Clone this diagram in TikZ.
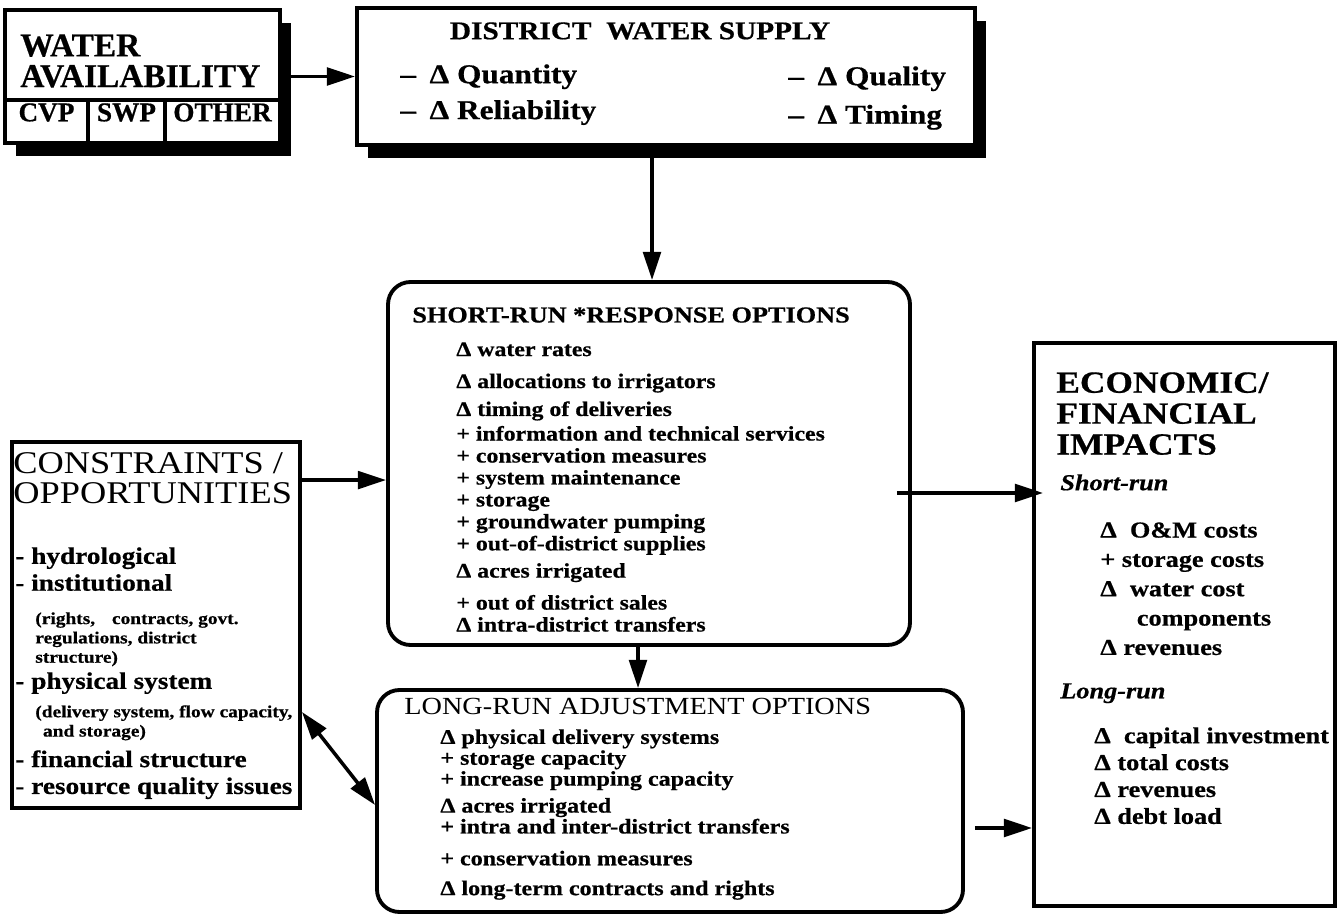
\documentclass[tikz,border=0pt]{standalone}
\usepackage{fontspec}
\setmainfont{Liberation Serif}[BoldFeatures={FakeBold=0.6}]
\newfontfamily\wideser[FakeStretch=1.15, BoldFeatures={FakeBold=0.6}, BoldItalicFeatures={FakeBold=0.6}]{Liberation Serif}
\usetikzlibrary{arrows.meta, positioning, fit, shadows}

\begin{document}
\begin{tikzpicture}[
  x=0.02cm, y=-0.02cm,
  box/.style={draw, line width=2.2pt, inner sep=0pt},
  shadowed/.style={fill=white, general shadow={fill=black, shadow xshift=0.22cm, shadow yshift=-0.26cm}},
  roundbox/.style={box, rounded corners=0.45cm},
  txt/.style={anchor=north west, inner sep=0pt, align=left},
  arrow/.style={line width=2pt, -{Triangle[length=16pt, width=10pt]}},
  dblarrow/.style={line width=2pt, {Triangle[length=16pt, width=10pt]}-{Triangle[length=16pt, width=10pt]}},
  bighead/.style={font=\bfseries\fontsize{19}{17.5}\selectfont},
  cellhead/.style={font=\bfseries\fontsize{15.5}{17}\selectfont},
  supplyhead/.style={font=\wideser\bfseries\fontsize{14.5}{17}\selectfont},
  supplyitem/.style={font=\wideser\bfseries\fontsize{15.5}{20.4}\selectfont},
  opthead/.style={font=\wideser\bfseries\fontsize{13}{15}\selectfont},
  longhead/.style={font=\wideser\fontsize{14}{15}\selectfont},
  optitem/.style={font=\wideser\bfseries\fontsize{11.8}{12.5}\selectfont},
  longitem/.style={font=\wideser\bfseries\fontsize{11.9}{11.9}\selectfont},
  sidehead/.style={font=\wideser\fontsize{18}{17}\selectfont},
  sideitem/.style={font=\wideser\bfseries\fontsize{13.5}{15.3}\selectfont},
  sidenote/.style={font=\wideser\bfseries\fontsize{9.6}{11}\selectfont},
  impacthead/.style={font=\wideser\bfseries\fontsize{17.5}{17.6}\selectfont},
  runhead/.style={font=\wideser\bfseries\itshape\fontsize{13}{15}\selectfont},
  impactitem/.style={font=\wideser\bfseries\fontsize{13}{16.7}\selectfont}
]

\useasboundingbox (0,0) rectangle (1338,915);

% water availability, with the three sources
\node[box, shadowed, fit={(5,10) (280,143)}] (wa) {};
\node[txt, bighead] (watitle) at (20,34) {WATER\\AVAILABILITY};
\node[box, cellhead, fit={(5,100) (88,143)}] (cvp) {CVP};
\node[box, cellhead, fit={(88,100) (165,143)}] (swp) {SWP};
\node[box, cellhead, fit={(165,100) (280,143)}] (other) {OTHER};

% district water supply
\node[box, shadowed, fit={(357,8) (975,145)}] (dws) {};
\node[anchor=north, inner sep=0pt, supplyhead] (dwstitle) at (640,22) {DISTRICT\ \ WATER SUPPLY};
\node[txt, supplyitem] (dwsleft) at (400,64) {–\enspace Δ Quantity\\–\enspace Δ Reliability};
\node[txt, supplyitem] (dwsright) at (788,66) {–\enspace Δ Quality\\[1.5pt]–\enspace Δ Timing};

% short-run options
\node[roundbox, fit={(388,282) (910,645)}] (sr) {};
\node[txt, opthead] (srtitle) at (412,307) {SHORT-RUN *RESPONSE OPTIONS};
\node[txt, optitem] (sritems) at (456,342) {Δ water rates\\[5.7pt]
  Δ allocations to irrigators\\[3.4pt]
  Δ timing of deliveries\\[1.5pt]
  + information and technical services\\
  + conservation measures\\
  + system maintenance\\
  + storage\\
  + groundwater pumping\\
  + out-of-district supplies\\[3pt]
  Δ acres irrigated\\[5.7pt]
  + out of district sales\\
  Δ intra-district transfers};

% long-run options
\node[roundbox, fit={(377,690) (963,912)}] (lr) {};
\node[txt, longhead] (lrtitle) at (404,698) {LONG-RUN ADJUSTMENT OPTIONS};
\node[txt, longitem] (lritems) at (440,729) {Δ physical delivery systems\\
  + storage capacity\\
  + increase pumping capacity\\[3.4pt]
  Δ acres irrigated\\
  + intra and inter-district transfers\\[6.2pt]
  + conservation measures\\[5.1pt]
  Δ long-term contracts and rights};

% constraints
\node[box, fit={(12,442) (300,808)}] (co) {};
\node[txt, sidehead] (cotitle) at (13,452) {CONSTRAINTS /\\OPPORTUNITIES};
\node[txt, sideitem] (coitemsa) at (15,547) {- hydrological\\- institutional};
\node[txt, sidenote] (conotea) at (35,612) {(rights,\quad contracts,\ govt.\\regulations,\ district\\structure)};
\node[txt, sideitem] (coitemsb) at (15,672) {- physical system};
\node[txt, sidenote] (conoteb) at (35,705) {(delivery system, flow capacity,\\\ \,and storage)};
\node[txt, sideitem] (coitemsc) at (15,750) {- financial structure\\- resource quality issues};

% economic impacts
\node[box, fit={(1034,343) (1335,906)}] (ef) {};
\node[txt, impacthead] (eftitle) at (1056,372) {ECONOMIC/\\FINANCIAL\\IMPACTS};
\node[txt, runhead] (efshort) at (1060,474) {Short-run};
\node[txt, impactitem] (efshortitems) at (1100,522) {Δ\ \ O\&M costs\\+ storage costs\\Δ\ \ water cost\\\hspace{1.6em}components\\Δ revenues};
\node[txt, runhead] (eflong) at (1060,683) {Long-run};
\node[txt, impactitem, font=\wideser\bfseries\fontsize{13}{15.3}\selectfont] (eflongitems) at (1094,727) {Δ\ \ capital investment\\Δ total costs\\Δ revenues\\Δ debt load};

% connectors
\draw[arrow] (wa.east) -- (wa.east -| dws.west);
\draw[arrow] ([xshift=-0.28cm]dws.south) -- ([xshift=-0.28cm]dws.south |- sr.north);
\draw[arrow] ([xshift=-0.22cm]sr.south) -- ([xshift=-0.22cm]sr.south |- lr.north);
\draw[arrow] ([yshift=-0.8cm]co.north east) -- ([yshift=-0.8cm]co.north east -| sr.west);
\coordinate (srout) at ([xshift=-0.3cm, yshift=-0.59cm]sr.east);
\draw[arrow] (srout) -- ([xshift=0.22cm]srout -| ef.west);
\coordinate (lrout) at ([xshift=0.2cm, yshift=-0.54cm]lr.east);
\draw[arrow] (lrout) -- (lrout -| ef.west);
\draw[dblarrow] ([yshift=-1.74cm]co.east) -- ([yshift=-0.08cm]lr.west);

\end{tikzpicture}
\end{document}
